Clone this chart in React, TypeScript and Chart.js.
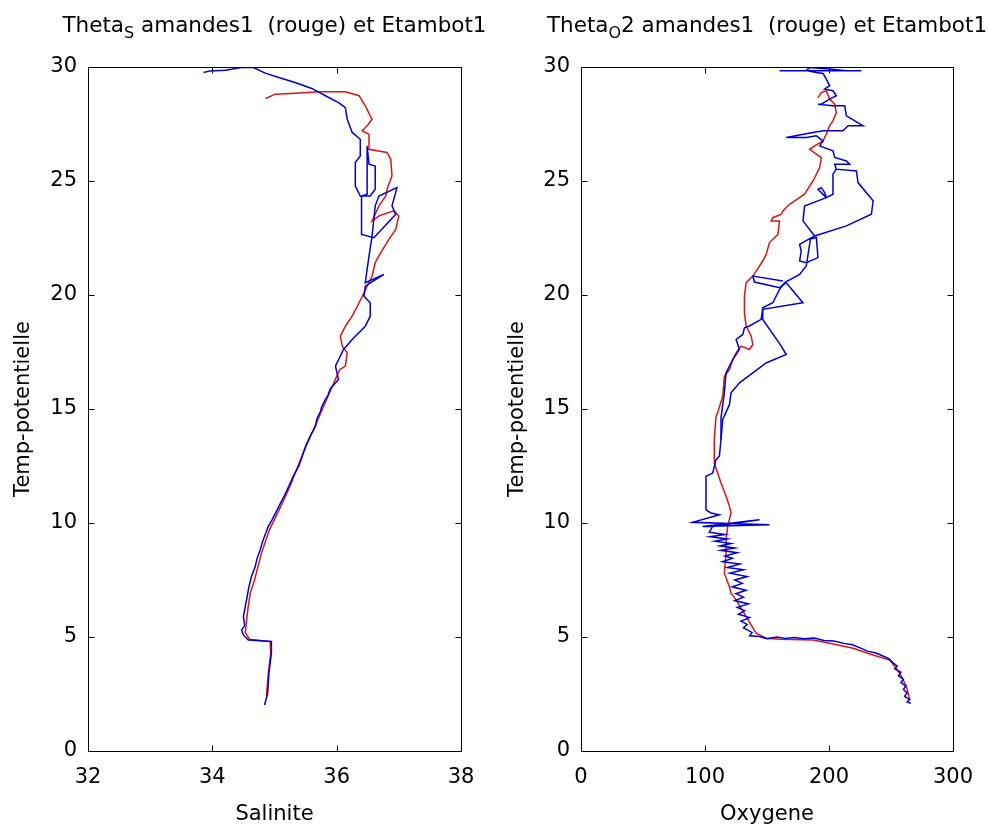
import React, { useEffect, useRef } from "react";
import { Chart, registerables } from "chart.js";

Chart.register(...registerables);

const FONT_FAMILY = "'DejaVu Sans', sans-serif";
const FONT_SIZE = 21;
const TITLE_SIZE = 21.5;
const BLUE = "#0000d2";
const RED = "#dc1414";

// ---- Tick labels ----
const thetaTicks = [0, 5, 10, 15, 20, 25, 30];
const salTicks = [32, 34, 36, 38];
const oxyTicks = [0, 100, 200, 300];

// ---- Salinity vs potential temperature : [salinite, theta] ----
const salBlue: [number, number][] = [
  [33.86, 29.76], [33.96, 29.83], [34.21, 29.86], [34.47, 29.98], [34.66, 29.98], [34.85, 29.73],
  [35.07, 29.54], [35.33, 29.32], [35.6, 29.06], [35.82, 28.74], [36.03, 28.44], [36.14, 28.22],
  [36.17, 27.71], [36.25, 27.13], [36.38, 26.83], [36.38, 26.1], [36.3, 25.81], [36.3, 24.78],
  [36.38, 24.34], [36.54, 24.34], [36.62, 24.64], [36.62, 25.66], [36.52, 25.74], [36.49, 26.54],
  [36.49, 24.42], [36.4, 24.34], [36.4, 22.66], [36.6, 22.51], [36.95, 23.54], [36.89, 23.91],
  [36.97, 24.71], [36.68, 24.34], [36.62, 23.91], [36.57, 22.59], [36.52, 21.71], [36.46, 20.54],
  [36.76, 20.9], [36.46, 20.39], [36.44, 19.95], [36.54, 19.66], [36.54, 19.07], [36.46, 18.63],
  [36.25, 18.05], [36.11, 17.61], [35.98, 16.88], [36.03, 16.29], [35.9, 15.9], [35.86, 15.6],
  [35.82, 15.42], [35.76, 15.1], [35.74, 14.9], [35.68, 14.55], [35.66, 14.24], [35.58, 13.85],
  [35.5, 13.37], [35.45, 12.95], [35.39, 12.49], [35.3, 12.05], [35.23, 11.61], [35.16, 11.2],
  [35.07, 10.73], [34.96, 10.14], [34.9, 9.85], [34.86, 9.56], [34.81, 9.2], [34.77, 8.83],
  [34.72, 8.45], [34.69, 8.09], [34.63, 7.65], [34.59, 7.22], [34.55, 6.63], [34.5, 5.9],
  [34.52, 5.5], [34.47, 5.3], [34.5, 5.09], [34.58, 4.87], [34.95, 4.8], [34.95, 4.29],
  [34.91, 3.41], [34.89, 2.53], [34.84, 2.02],
];
const salRed: [number, number][] = [
  [34.86, 28.62], [35.01, 28.81], [35.33, 28.85], [35.71, 28.91], [36.14, 28.91], [36.36, 28.74],
  [36.46, 28.3], [36.54, 27.86], [36.57, 27.71], [36.49, 27.42], [36.41, 27.2], [36.52, 27.05],
  [36.52, 26.39], [36.81, 26.25], [36.87, 25.95], [36.89, 25.22], [36.81, 24.64], [36.79, 24.34],
  [36.68, 23.91], [36.57, 23.25], [36.68, 23.47], [36.92, 23.69], [37.0, 23.47], [36.95, 22.88],
  [36.84, 22.44], [36.71, 21.86], [36.62, 21.42], [36.57, 20.83], [36.44, 20.1], [36.36, 19.66],
  [36.25, 19.07], [36.14, 18.63], [36.06, 18.2], [36.09, 17.76], [36.17, 17.46], [36.14, 16.88],
  [36.05, 16.73], [35.86, 15.56], [35.65, 14.24], [35.46, 13.07], [35.25, 11.61], [35.09, 10.66],
  [34.92, 9.71], [34.79, 8.68], [34.68, 7.51], [34.61, 6.92], [34.57, 6.19], [34.53, 5.2],
  [34.6, 4.9], [34.93, 4.8], [34.94, 4.3], [34.9, 3.4], [34.87, 2.4],
];

// ---- Oxygen vs potential temperature : [oxygene, theta] ----
const oxyBlueMain: [number, number][] = [
  [160.1, 29.84], [226.1, 29.84], [214.0, 29.84], [200.5, 29.91], [184.4, 29.98], [181.7, 29.84],
  [189.8, 29.76], [195.2, 29.72], [197.8, 29.47], [200.5, 29.18], [196.5, 29.03], [203.2, 28.96],
  [205.9, 28.74], [200.5, 28.59], [193.8, 28.37], [191.1, 28.37], [203.2, 28.3], [212.7, 28.3],
  [214.0, 27.86], [227.5, 27.42], [215.4, 27.42], [211.3, 27.2], [195.2, 27.2], [187.1, 27.13],
  [165.5, 26.91], [181.7, 26.91], [189.8, 26.98], [195.2, 26.76], [192.5, 26.54], [203.2, 26.32],
  [204.6, 26.03], [214.0, 25.88], [216.7, 25.74], [204.6, 25.74], [205.9, 25.52], [222.1, 25.44],
  [223.4, 24.93], [235.6, 24.13], [234.2, 23.54], [214.0, 23.03], [188.4, 22.59], [176.3, 22.22],
  [177.6, 21.93], [176.3, 21.49], [181.7, 21.42], [191.1, 21.64], [189.8, 22.52], [185.0, 22.45],
  [181.7, 21.27], [176.3, 20.9], [164.2, 20.54], [160.1, 20.25], [154.7, 19.66], [146.6, 19.44],
  [145.3, 18.93], [135.8, 18.64], [131.8, 18.56], [130.5, 18.27], [125.1, 18.05], [127.8, 17.61],
  [122.4, 17.17], [117.0, 16.59], [115.6, 15.71], [112.9, 14.61], [112.9, 13.66], [111.6, 12.93],
  [108.9, 12.78], [106.2, 12.19], [100.8, 12.05], [100.8, 10.58], [104.8, 10.44], [111.6, 10.36],
  [90.0, 10.03], [152.0, 9.92], [98.1, 9.85], [143.9, 10.14], [106.2, 9.85], [103.5, 9.6],
  [116, 9.5], [104, 9.4], [118, 9.3], [108, 9.2], [121, 9.1], [112, 9.0], [124, 8.9], [113, 8.8],
  [126, 8.7], [116, 8.55], [122, 8.45], [114, 8.3], [128, 8.2], [118, 8.05], [131, 7.95], [120, 7.8],
  [134, 7.65], [124, 7.5], [130, 7.35], [122, 7.2], [133, 7.05], [125, 6.9], [131, 6.75], [124, 6.6],
  [135, 6.45], [126, 6.3], [132, 6.15], [127, 6.0], [136, 5.85], [129, 5.7], [134, 5.55], [131, 5.4],
  [138, 5.2], [136, 5.05], [143.9, 5.02], [150, 4.92], [158, 5.0], [165, 4.93], [172, 4.98],
  [180, 4.92], [188, 4.96], [196, 4.85], [204, 4.82], [212, 4.72], [219, 4.66], [226, 4.5],
  [231, 4.38], [238, 4.3], [243, 4.18], [248, 4.06], [251, 3.9], [255, 3.72], [253, 3.6],
  [258, 3.45], [256, 3.3], [260, 3.15], [258, 3.0], [262, 2.85], [260, 2.7], [263, 2.55],
  [261, 2.4], [265, 2.25], [263, 2.15], [266, 2.09],
];
const oxyBlueInner: [number, number][] = [
  [205.9, 25.52], [203.2, 25.3], [203.2, 24.42], [197.8, 24.27], [193.8, 24.49], [191.1, 24.64],
  [193.8, 24.71], [196.5, 24.49], [197.8, 24.27], [180.3, 23.9], [179.0, 23.25], [188.4, 22.59],
];
const oxyBlueCross: [number, number][] = [
  [162.8, 20.61], [138.6, 20.83], [139.9, 20.57], [160.1, 20.32], [165.5, 20.54], [179.0, 19.66],
  [146.6, 19.37], [146.6, 18.93], [161.5, 17.76], [165.5, 17.39], [149.3, 17.02], [127.8, 16.15],
  [121.0, 15.71], [119.7, 15.19], [114.3, 14.54], [112.9, 13.66],
];
const oxyRed: [number, number][] = [
  [191.1, 28.66], [193.8, 28.88], [197.8, 28.96], [200.5, 28.59], [204.6, 28.37], [205.9, 28.0],
  [203.2, 27.64], [200.5, 27.42], [197.8, 27.05], [195.2, 26.76], [188.4, 26.54], [184.4, 26.39],
  [189.8, 26.18], [193.8, 26.03], [192.5, 25.59], [187.1, 25.0], [180.3, 24.42], [168.2, 23.98],
  [162.8, 23.69], [161.5, 23.54], [154.7, 23.39], [153.4, 23.25], [160.1, 23.25], [158.8, 22.66],
  [152.0, 22.3], [149.3, 21.78], [146.6, 21.49], [141.2, 21.05], [138.6, 20.83], [133.2, 20.54],
  [131.8, 19.95], [131.8, 19.22], [133.2, 18.64], [137.2, 18.2], [138.6, 17.83], [135.8, 17.61],
  [129.1, 17.76], [125.1, 17.46], [122.4, 17.17], [119.7, 16.73], [115.6, 16.44], [114.3, 15.56],
  [110.2, 14.83], [108.9, 14.68], [107.5, 13.66], [107.5, 12.63], [110.2, 12.19], [112.9, 11.75],
  [117.0, 11.17], [119.7, 10.73], [121.0, 10.44], [118.3, 9.85], [117.0, 9.27], [117.0, 8.68],
  [115.6, 7.8], [119.7, 7.21], [121.0, 6.92], [125.1, 6.63], [133.1, 5.9], [141.2, 5.17],
  [149.3, 4.95], [160.1, 4.9], [187.1, 4.87], [200.5, 4.73], [219.4, 4.51], [235.5, 4.21],
  [249.0, 3.99], [257.1, 3.41], [262.5, 2.82], [265.2, 2.24],
];

const toPoints = (arr: [number, number][]) => arr.map(([x, y]) => ({ x, y }));

type PlotProps = {
  pageLeft: number;
  width: number;
  axisWidth: number;
  padRight: number;
  xMin: number;
  xMax: number;
  xTicks: number[];
  xLabel: string;
  titleMain: string;
  titleSub: string;
  titleRest: string;
  blue: [number, number][][];
  red: [number, number][][];
};

const TICK_LEN = 6;

function SubPlot(p: PlotProps) {
  const ref = useRef<HTMLCanvasElement>(null);
  useEffect(() => {
    const font = { family: FONT_FAMILY, size: FONT_SIZE };
    const framePlugin = {
      id: "frame",
      afterDraw(chart: any) {
        const { ctx, chartArea: a, scales } = chart;
        const L = Math.round(a.left) + 0.5;
        const R = Math.round(a.right) + 0.5;
        const T = Math.round(a.top) + 0.5;
        const B = Math.round(a.bottom) + 0.5;
        ctx.save();
        ctx.strokeStyle = "#000";
        ctx.lineWidth = 1;
        ctx.beginPath();
        ctx.rect(L, T, R - L, B - T);
        for (const t of scales.x.ticks) {
          const x = Math.round(scales.x.getPixelForValue(t.value)) + 0.5;
          ctx.moveTo(x, B);
          ctx.lineTo(x, B - TICK_LEN);
          ctx.moveTo(x, T);
          ctx.lineTo(x, T + TICK_LEN);
        }
        for (const t of scales.y.ticks) {
          const y = Math.round(scales.y.getPixelForValue(t.value)) + 0.5;
          ctx.moveTo(L, y);
          ctx.lineTo(L + TICK_LEN, y);
          ctx.moveTo(R, y);
          ctx.lineTo(R - TICK_LEN, y);
        }
        ctx.stroke();
        // title with subscript
        const cx = (a.left + a.right) / 2;
        const baseY = 32;
        const mainFont = `${TITLE_SIZE}px ${FONT_FAMILY}`;
        const subFont = `${Math.round(TITLE_SIZE * 0.75)}px ${FONT_FAMILY}`;
        ctx.font = mainFont;
        const w1 = ctx.measureText(p.titleMain).width;
        const w3 = ctx.measureText(p.titleRest).width;
        ctx.font = subFont;
        const w2 = ctx.measureText(p.titleSub).width;
        let x = cx - (w1 + w2 + w3) / 2;
        ctx.fillStyle = "#000";
        ctx.textAlign = "left";
        ctx.textBaseline = "alphabetic";
        ctx.font = mainFont;
        ctx.fillText(p.titleMain, x, baseY);
        x += w1;
        ctx.font = subFont;
        ctx.fillText(p.titleSub, x, baseY + 6);
        x += w2;
        ctx.font = mainFont;
        ctx.fillText(p.titleRest, x, baseY);
        ctx.restore();
      },
    };

    const lineDs = (arr: [number, number][], color: string) => ({
      data: toPoints(arr),
      borderColor: color,
      backgroundColor: color,
      borderWidth: 1.5,
      showLine: true,
      pointRadius: 0,
      pointHoverRadius: 0,
      fill: false,
      tension: 0,
    });

    const chart = new Chart(ref.current as HTMLCanvasElement, {
      type: "scatter",
      data: {
        datasets: [
          ...p.blue.map((b) => lineDs(b, BLUE)),
          ...p.red.map((r) => lineDs(r, RED)),
        ],
      },
      options: {
        animation: false,
        responsive: false,
        events: [],
        layout: { padding: { top: 67, right: p.padRight, bottom: 0, left: 0 } },
        plugins: {
          legend: { display: false },
          tooltip: { enabled: false },
          title: { display: false },
        },
        scales: {
          x: {
            type: "linear",
            min: p.xMin,
            max: p.xMax,
            grid: { display: false, drawTicks: false },
            border: { display: false },
            afterBuildTicks: (s: any) => {
              s.ticks = p.xTicks.map((v) => ({ value: v }));
            },
            afterFit: (s: any) => {
              s.height = 78;
            },
            ticks: {
              color: "#000",
              font,
              padding: 14,
              autoSkip: false,
              maxRotation: 0,
              callback: (v: any) => String(v),
            },
            title: {
              display: true,
              text: p.xLabel,
              color: "#000",
              font,
              padding: { top: 0, bottom: 2 },
            },
          },
          y: {
            type: "linear",
            min: 0,
            max: 30,
            grid: { display: false, drawTicks: false },
            border: { display: false },
            afterBuildTicks: (s: any) => {
              s.ticks = thetaTicks.map((v) => ({ value: v }));
            },
            afterFit: (s: any) => {
              s.width = p.axisWidth;
            },
            ticks: {
              color: "#000",
              font,
              padding: 11,
              autoSkip: false,
              callback: (v: any) => String(v),
            },
            title: {
              display: true,
              text: "Temp-potentielle",
              color: "#000",
              font,
              padding: { top: 11, bottom: 0 },
            },
          },
        },
      } as any,
      plugins: [framePlugin],
    });
    return () => chart.destroy();
  }, []);
  return (
    <div style={{ position: "absolute", left: p.pageLeft, top: 0, width: p.width, height: 829 }}>
      <canvas ref={ref} width={p.width} height={829} style={{ width: p.width, height: 829, display: "block" }} />
    </div>
  );
}

export default function App() {
  return (
    <div style={{ position: "fixed", left: 0, top: 0, width: 989, height: 829, background: "#fff", overflow: "hidden" }}>
      <SubPlot
        pageLeft={0}
        width={494}
        axisWidth={88}
        padRight={33}
        xMin={32}
        xMax={38}
        xTicks={salTicks}
        xLabel="Salinite"
        titleMain="Theta"
        titleSub="S"
        titleRest=" amandes1  (rouge) et Etambot1"
        blue={[salBlue]}
        red={[salRed]}
      />
      <SubPlot
        pageLeft={494}
        width={495}
        axisWidth={87}
        padRight={36}
        xMin={0}
        xMax={300}
        xTicks={oxyTicks}
        xLabel="Oxygene"
        titleMain="Theta"
        titleSub="O"
        titleRest="2 amandes1  (rouge) et Etambot1"
        blue={[oxyBlueMain, oxyBlueInner, oxyBlueCross]}
        red={[oxyRed]}
      />
    </div>
  );
}
